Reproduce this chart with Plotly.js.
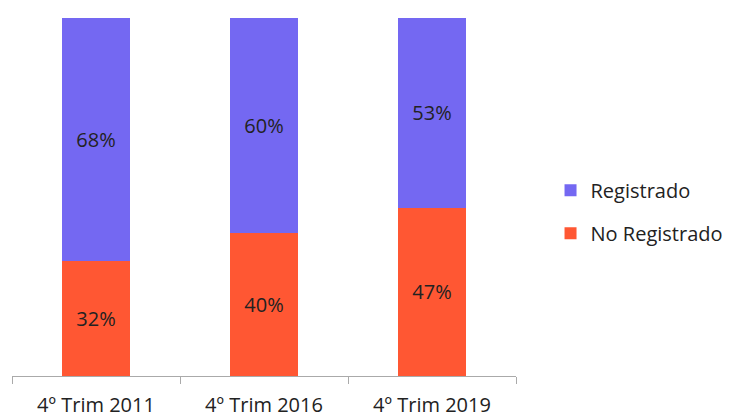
<!DOCTYPE html>
<html><head><meta charset="utf-8">
<script src="https://cdn.plot.ly/plotly-3.0.1.min.js"></script>
<style>html,body{margin:0;padding:0;background:#fff}#c{width:736px;height:417px}</style>
</head><body><div id="c"></div>
<script>
const categories = ["4º Trim 2011", "4º Trim 2016", "4º Trim 2019"];
const noRegistrado = [32, 40, 47];
const registrado = [68, 60, 53];
const seriesNames = ["No Registrado", "Registrado"];

const font = "Open Sans, DejaVu Sans, sans-serif";
const traces = [
  {type:"bar", name:seriesNames[0], x:categories, y:noRegistrado, legendgroup:"b", legendrank:2,
   marker:{color:"#FF5733"}, text:noRegistrado.map(v=>v+"%"), textposition:"inside",
   insidetextanchor:"middle", textfont:{color:"#222", size:20, family:font}, hoverinfo:"none"},
  {type:"bar", name:seriesNames[1], x:categories, y:registrado, legendgroup:"a", legendrank:1,
   marker:{color:"#7468F2"}, text:registrado.map(v=>v+"%"), textposition:"inside",
   insidetextanchor:"middle", textfont:{color:"#222", size:20, family:font}, hoverinfo:"none"}
];
const layout = {
  width:736, height:417, barmode:"stack", bargap:0.6,
  margin:{l:12, r:220, t:18, b:41},
  paper_bgcolor:"#fff", plot_bgcolor:"#fff",
  font:{family:font, color:"#222"},
  xaxis:{showline:true, linecolor:"#aaa", linewidth:1, ticks:"outside", tickson:"boundaries",
         ticklen:7, tickcolor:"#aaa", tickfont:{size:20, color:"#222"}, ticklabelstandoff:11,
         automargin:false, showgrid:false, fixedrange:true},
  yaxis:{range:[0,100], visible:false, showgrid:false},
  showlegend:true,
  legend:{xref:"container", x:0.748, y:0.459, xanchor:"left", yanchor:"middle", traceorder:"grouped",
          tracegroupgap:14, font:{size:20, color:"#222"}, bgcolor:"rgba(0,0,0,0)"}
};
Plotly.newPlot("c", traces, layout, {displayModeBar:false, staticPlot:true});
</script></body></html>
